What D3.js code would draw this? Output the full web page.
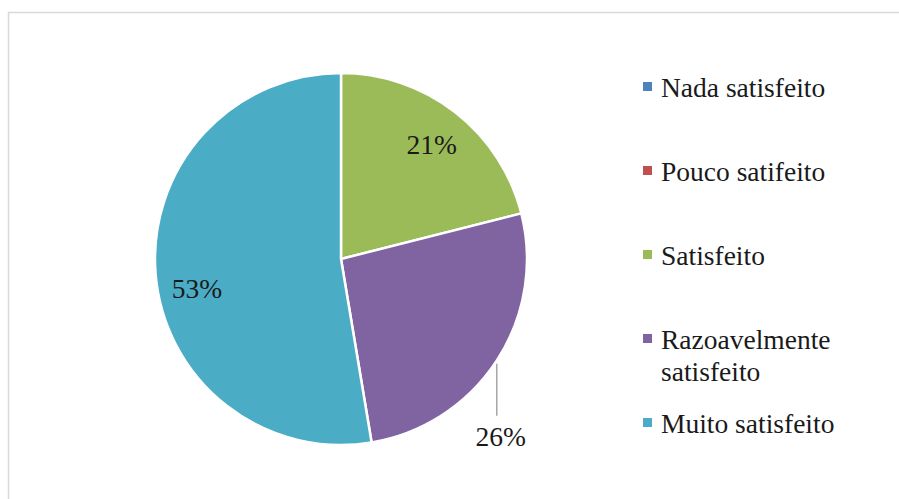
<!DOCTYPE html>
<html>
<head>
<meta charset="utf-8">
<script src="https://cdn.jsdelivr.net/npm/d3@7"></script>
<style>
  html, body { margin: 0; padding: 0; background: #fff; }
</style>
</head>
<body>
<div class="chart"></div>
<script>
'use strict';

// responses (count of answers)
const categories = ['Nada satisfeito', 'Pouco satifeito', 'Satisfeito', 'Razoavelmente satisfeito', 'Muito satisfeito'];
const counts = [0, 0, 8, 10, 20];
const colors = ['#4F81BD', '#C0504D', '#9BBB59', '#8064A2', '#4BACC6'];

const WIDTH = 899;
const HEIGHT = 499;
const CX = 341, CY = 259, R = 186;
const FONT = '"Liberation Serif", "Times New Roman", Tinos, "DejaVu Serif", "Noto Serif", Times, serif';
const FS = 27.5;

const svg = d3.select('.chart')
  .append('svg')
    .attr('width', WIDTH)
    .attr('height', HEIGHT)
    .style('font-family', FONT);

// frame (bottom / right cut by the viewport)
svg.append('path')
  .attr('d', `M8.5,${HEIGHT}V12.5H${WIDTH}`)
  .attr('fill', 'none')
  .attr('stroke', '#d9d9d9')
  .attr('stroke-width', 1.5);

const data = categories.map((c, i) => ({name: c, value: counts[i], color: colors[i]}));
const total = d3.sum(counts);

const pie = d3.pie().sort(null).value(d => d.value);
const arcs = pie(data);
const arc = d3.arc().innerRadius(0).outerRadius(R);

const g = svg.append('g').attr('transform', `translate(${CX},${CY})`);

g.selectAll('path')
  .data(arcs.filter(d => d.value > 0))
  .enter().append('path')
    .attr('d', arc)
    .attr('fill', d => d.data.color)
    .attr('stroke', '#fff')
    .attr('stroke-width', 2.5)
    .attr('stroke-linejoin', 'round');

const fmt = d3.format('.0%');

// label nudges (angle shift, radius) as excel placed them
const nudge = {
  'Satisfeito': [0.01, 146],
  'Muito satisfeito': [-0.12, 147]
};

arcs.filter(d => d.value > 0).forEach(d => {
  const txt = fmt(d.value / total);
  if (d.data.name === 'Razoavelmente satisfeito') {
    // label pushed outside with a leader line
    const a = (d.startAngle + d.endAngle) / 2 + 0.26;
    const lx = Math.sin(a) * 239, ly = -Math.cos(a) * 239;
    const x0 = lx - 4;
    const y0 = Math.sqrt(R * R - x0 * x0);
    g.append('line')
      .attr('x1', x0).attr('y1', y0 + 3)
      .attr('x2', x0).attr('y2', ly - 21)
      .attr('stroke', '#a6a6a6').attr('stroke-width', 1.5);
    g.append('text')
      .attr('x', lx).attr('y', ly + 9)
      .attr('text-anchor', 'middle')
      .attr('font-size', FS)
      .attr('fill', '#1a1a1a')
      .text(txt);
  } else {
    const [da, r] = nudge[d.data.name];
    const a = (d.startAngle + d.endAngle) / 2 + da;
    g.append('text')
      .attr('x', Math.sin(a) * r).attr('y', -Math.cos(a) * r + 9)
      .attr('text-anchor', 'middle')
      .attr('font-size', FS)
      .attr('fill', '#1a1a1a')
      .text(txt);
  }
});

// legend
const legend = svg.append('g').attr('transform', 'translate(643,0)');
const rows = [
  {lines: ['Nada satisfeito'], y: 97},
  {lines: ['Pouco satifeito'], y: 181},
  {lines: ['Satisfeito'], y: 265},
  {lines: ['Razoavelmente', 'satisfeito'], y: 349},
  {lines: ['Muito satisfeito'], y: 433}
];

rows.forEach((r, i) => {
  legend.append('rect')
    .attr('x', 0).attr('y', r.y - 15)
    .attr('width', 9).attr('height', 9)
    .attr('fill', colors[i]);
  const t = legend.append('text')
    .attr('x', 18).attr('y', r.y)
    .attr('font-size', FS)
    .attr('fill', '#1a1a1a');
  r.lines.forEach((l, j) => {
    t.append('tspan').attr('x', 18).attr('dy', j === 0 ? 0 : 32).text(l);
  });
});
</script>
</body>
</html>
